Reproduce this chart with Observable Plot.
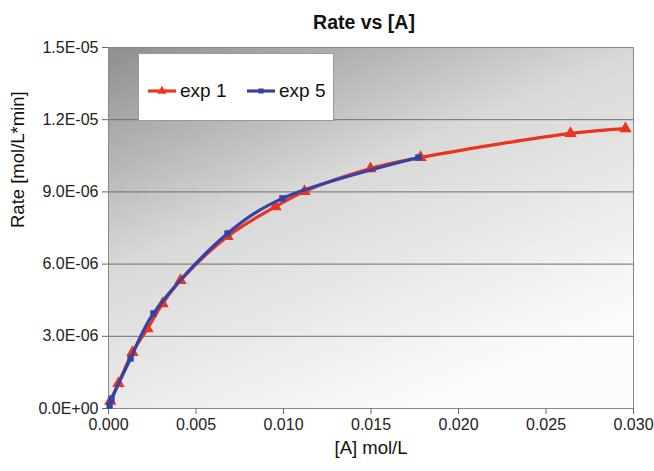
<!DOCTYPE html>
<html>
<head>
<meta charset="utf-8">
<script src="https://cdn.jsdelivr.net/npm/d3@7"></script>
<script src="https://cdn.jsdelivr.net/npm/@observablehq/plot@0.6"></script>
<style>
  body { margin: 0; background: #fff; font-family: "Liberation Sans", Arial, sans-serif; }
  #wrap { position: relative; width: 654px; height: 471px; overflow: hidden; }
  #title { position: absolute; left: 108px; width: 512px; top: 10px; text-align: center;
           font-size: 19.5px; line-height: 24px; font-weight: bold; color: #111; }
  #chart { position: absolute; left: 0; top: 34px; }
  #legend { position: absolute; left: 138px; top: 53px; width: 196px; height: 68px;
            background: #fff; border: 1px solid #9a9a9a; box-sizing: border-box; }
  .entry { position: absolute; top: 25px; height: 24px; display: flex; align-items: center;
           font-size: 19px; color: #111; }
  .entry svg { margin-right: 4px; }
</style>
</head>
<body>
<div id="wrap">
  <div id="title">Rate vs [A]</div>
  <div id="chart"></div>
  <div id="legend"></div>
</div>
<script>
// Initial rate measurements: concentration [A] (mol/L) and rate (mol/L*min)
const exp1A    = [0.0001, 0.00057, 0.00137, 0.00223, 0.00309, 0.00411, 0.0068, 0.00954, 0.0112, 0.01497, 0.01783, 0.0264, 0.02954];
const exp1Rate = [3.0e-7, 1.04e-6, 2.33e-6, 3.32e-6, 4.36e-6, 5.32e-6, 7.15e-6, 8.39e-6, 9.02e-6, 9.97e-6, 1.043e-5, 1.143e-5, 1.163e-5];

const exp5A    = [0.00006, 0.00017, 0.00126, 0.00257, 0.0068, 0.00994, 0.01771];
const exp5Rate = [1.2e-7, 3.7e-7, 2.08e-6, 3.95e-6, 7.27e-6, 8.73e-6, 1.043e-5];

const xTicks = [0, 0.005, 0.010, 0.015, 0.020, 0.025, 0.030];
const yTicks = [0, 3e-6, 6e-6, 9e-6, 1.2e-5, 1.5e-5];

const xLabel = "[A] mol/L";
const yLabel = "Rate [mol/L*min]";

const series = [
  {name: "exp 1", color: "#ea3420", symbol: "triangle", r: 4.6, data: exp1A.map((a, i) => ({a, rate: exp1Rate[i]}))},
  {name: "exp 5", color: "#3543a6", symbol: "square", r: 3.6, data: exp5A.map((a, i) => ({a, rate: exp5Rate[i]}))}
];

// Scientific label in spreadsheet style, e.g. 1.5E-05
function sci(d) {
  if (d === 0) return "0.0E+00";
  const e = Math.floor(Math.log10(Math.abs(d)) + 1e-9);
  const m = d / Math.pow(10, e);
  return m.toFixed(1) + "E" + (e < 0 ? "-" : "+") + String(Math.abs(e)).padStart(2, "0");
}

// Diagonal grey-to-white fill behind the plotting area
function backdrop(index, scales, values, dims) {
  const g = d3.create("svg:g");
  const grad = g.append("defs").append("linearGradient")
    .attr("id", "plotBg").attr("x1", 0).attr("y1", 0).attr("x2", 0.6).attr("y2", 1);
  [["0%", "#8e8e8e"], ["45%", "#d8d8d8"], ["100%", "#fcfcfc"]].forEach(([o, c]) =>
    grad.append("stop").attr("offset", o).attr("stop-color", c));
  g.append("rect")
    .attr("x", dims.marginLeft).attr("y", dims.marginTop)
    .attr("width", dims.width - dims.marginLeft - dims.marginRight)
    .attr("height", dims.height - dims.marginTop - dims.marginBottom)
    .attr("fill", "url(#plotBg)");
  return g.node();
}

const marks = [
  backdrop,
  Plot.gridY(yTicks, {stroke: "#6e6e6e", strokeOpacity: 1}),
  Plot.frame({stroke: "#8a8a8a"}),
  Plot.axisY(yTicks, {tickFormat: sci, tickSize: 6, tickPadding: 4, fontSize: 16, stroke: "#666", label: null}),
  Plot.axisX(xTicks, {tickFormat: d => d.toFixed(3), tickSize: 6, tickPadding: 4, fontSize: 16, stroke: "#666", label: null}),
  Plot.text([yLabel], {frameAnchor: "left", dx: -90, rotate: -90, fontSize: 18.5, fill: "#111"}),
  Plot.text([xLabel], {frameAnchor: "bottom", dy: 45, fontSize: 18.5, fill: "#111"})
];
for (const s of series) {
  marks.push(Plot.line(s.data, {x: "a", y: "rate", stroke: s.color, strokeWidth: 3.2, curve: "catmull-rom"}));
  marks.push(Plot.dot(s.data, {x: "a", y: "rate", symbol: s.symbol, fill: s.color, r: s.r}));
}

const chart = Plot.plot({
  width: 654,
  height: 437,
  marginTop: 13,
  marginBottom: 63,
  marginLeft: 108,
  marginRight: 21,
  style: {fontFamily: "'Liberation Sans', Arial, sans-serif", fontSize: "16px", color: "#222", background: "transparent", overflow: "visible"},
  x: {domain: [0, 0.03]},
  y: {domain: [0, 1.5e-5]},
  marks
});
document.getElementById("chart").appendChild(chart);

// Legend entries: short line with the series marker, then the name
const legend = d3.select("#legend");
const lefts = [9, 108];
series.forEach((s, i) => {
  const e = legend.append("div").attr("class", "entry").style("left", lefts[i] + "px");
  const sv = e.append("svg").attr("width", 28).attr("height", 12);
  sv.append("line").attr("x1", 0).attr("x2", 28).attr("y1", 6).attr("y2", 6)
    .attr("stroke", s.color).attr("stroke-width", 3.2);
  sv.append("path").attr("transform", "translate(14,6)")
    .attr("d", d3.symbol(s.symbol === "triangle" ? d3.symbolTriangle : d3.symbolSquare, s.symbol === "triangle" ? 36 : 26)())
    .attr("fill", s.color);
  e.append("span").text(s.name);
});
</script>
</body>
</html>
